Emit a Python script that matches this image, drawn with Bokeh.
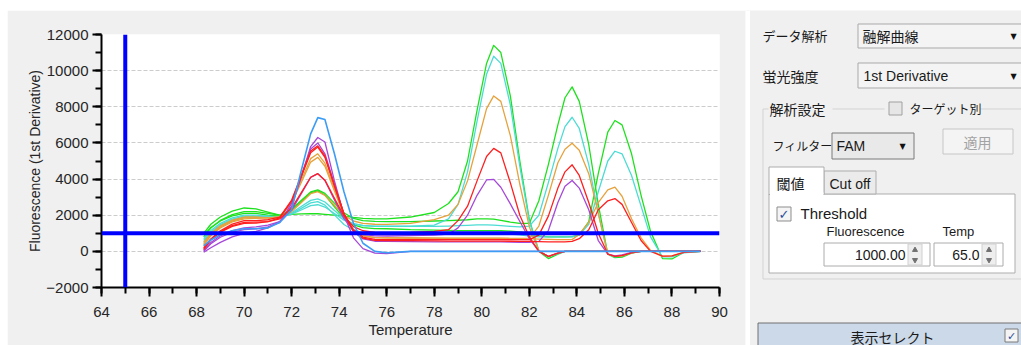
from bokeh.plotting import figure
from bokeh.models import Range1d, Span, SingleIntervalTicker, Spacer
from bokeh.layouts import row, column
from bokeh.core.properties import value
from bokeh.embed import file_html
from bokeh.resources import INLINE

# ---------------- data ----------------
TEMPS = [
    68.3, 68.6, 69.0, 69.5, 70.0, 70.5, 71.0, 71.5, 72.0, 72.4, 72.8, 73.1, 73.4, 73.8, 74.2, 74.6, 75.0, 75.5,
    76.0, 77.0, 78.0, 78.6, 79.0, 79.4, 79.8, 80.2, 80.5, 80.8, 81.2, 81.6, 82.0, 82.4, 82.8, 83.2, 83.5, 83.8,
    84.1, 84.5, 84.9, 85.3, 85.6, 85.9, 86.3, 86.7, 87.1, 87.6, 88.0, 88.5, 89.2]

X_RANGE = (64, 90)
Y_RANGE = (-2000, 12000)
THRESHOLD_FLUOR = 1000.0
THRESHOLD_TEMP = 65.0

Z13 = [0] * 13

A1_GREEN = [1000, 1500, 1900, 2230, 2400, 2350, 2170, 2000, 2050, 2070, 2080, 2080, 2050, 2000, 1950, 1880, 1830, 1800,
            1800, 1900, 2150, 2650, 3300, 5000, 7800, 10400, 11400, 11000, 8600, 5000, 1750, 0, -400, -150, 0, 0] + Z13
A2_CYAN = [700, 1150, 1550, 1850, 2000, 2000, 1950, 1900, 2060, 2290, 2530, 2580, 2450, 2090, 1730, 1520, 1430, 1400,
           1390, 1400, 1450, 1800, 2600, 4400, 7200, 9800, 10800, 10400, 8100, 4700, 1650, 50, -300, -120, 0, 0] + Z13
A3_ORANGE = [500, 990, 1410, 1730, 1900, 1900, 1850, 1850, 2200, 2690, 3190, 3300, 3100, 2550, 2000, 1680, 1550, 1500,
             1490, 1550, 1760, 2000, 2600, 3900, 5900, 7900, 8600, 8300, 6400, 3700, 1350, 50, -300, -100, 0, 0] + Z13
A4_RED = [200, 690, 1110, 1430, 1600, 1620, 1650, 1800, 2400, 3240, 4100, 4300, 3940, 2940, 1960, 1370, 1140, 1050,
          1030, 1050, 1100, 1200, 1700, 2500, 3900, 5250, 5700, 5450, 3800, 2000, 800, 0, -280, -100, 0, 0] + Z13
A5_PURPLE = [50, 490, 860, 1150, 1300, 1350, 1450, 1650, 2280, 3180, 4090, 4300, 3920, 2850, 1810, 1190, 940, 860,
             850, 870, 900, 950, 1300, 2000, 3100, 3950, 3980, 3550, 2630, 1650, 700, 0, -280, -100, 0, 0] + Z13

B1_GREEN = [800, 1290, 1710, 2030, 2200, 2200, 2100, 2000, 2330, 2810, 3290, 3400, 3210, 2670, 2140, 1820, 1700, 1660,
            1650, 1650, 1680, 1700, 1720, 1750, 1800, 1800, 1780, 1720, 1620, 1550, 1550, 2800, 4800, 7000, 8500, 9100,
            8300, 5900, 2600, -150, -350, -320, -100, 0, 0, 0, 0, 0, 0]
B2_CYAN = [600, 1070, 1480, 1790, 1950, 1950, 1900, 1900, 2140, 2480, 2820, 2900, 2730, 2260, 1800, 1530, 1420, 1385,
           1385, 1380, 1380, 1400, 1420, 1440, 1460, 1460, 1450, 1420, 1380, 1350, 1400, 2000, 3800, 5700, 6900, 7420,
           6800, 4800, 2100, -150, -300, -250, -80, 0, 0, 0, 0, 0, 0]
B3_ORANGE = [400, 910, 1340, 1680, 1850, 1850, 1850, 1900, 2730, 3920, 5130, 5400, 4880, 3450, 2050, 1210, 870, 760,
             750, 740, 730, 730, 730, 730, 730, 730, 730, 730, 720, 720, 720, 1400, 3100, 4900, 5650, 5980,
             5600, 4300, 2100, -150, -280, -250, -80, 0, 0, 0, 0, 0, 0]
B4_RED = [100, 660, 1140, 1510, 1700, 1700, 1750, 1900, 2840, 4190, 5550, 5840, 5280, 3680, 2100, 1170, 790, 660,
          650, 650, 650, 650, 650, 650, 650, 650, 650, 650, 650, 650, 650, 900, 1950, 3500, 4400, 4790,
          4200, 2700, 1000, -150, -280, -230, -80, 0, 0, 0, 0, 0, 0]
B5_PURPLE = [0, 420, 780, 1060, 1200, 1250, 1350, 1600, 2650, 4140, 5660, 6000, 5400, 3720, 2070, 1090, 690, 560,
             550, 540, 530, 520, 520, 520, 520, 520, 520, 520, 510, 500, 500, 550, 1150, 2700, 3600, 3920,
             3500, 2300, 600, -150, -250, -200, -60, 0, 0, 0, 0, 0, 0]

C1_GREEN = [900, 1320, 1680, 1960, 2100, 2100, 2000, 1950, 2280, 2760, 3240, 3350, 3120, 2470, 1840, 1460, 1310, 1255,
            1250, 1200, 1180, 1160, 1150, 1150, 1150, 1150, 1150, 1150, 1120, 1080, 1000, 850, 800, 800, 800, 820,
            900, 1650, 4300, 6600, 7240, 7000, 5400, 3100, 1100, -400, -420, -50, 0]
C2_CYAN = [500, 990, 1410, 1730, 1900, 1900, 1880, 1880, 2090, 2380, 2680, 2750, 2560, 2020, 1490, 1170, 1050, 1000,
           1000, 990, 980, 970, 970, 970, 970, 970, 970, 960, 950, 920, 850, 800, 800, 800, 800, 800,
           900, 1500, 3300, 5000, 5540, 5400, 4200, 2500, 800, -300, -300, -80, 0]
C3_ORANGE = [350, 860, 1290, 1630, 1800, 1820, 1850, 1900, 2690, 3800, 4940, 5200, 4710, 3340, 1990, 1190, 870, 755,
             750, 740, 730, 720, 720, 720, 720, 720, 720, 720, 710, 700, 700, 680, 660, 650, 650, 650,
             950, 1600, 2700, 3400, 3550, 3050, 1800, 750, 50, -280, -250, -50, 0]
C4_RED = [150, 640, 1060, 1380, 1550, 1560, 1650, 1850, 2780, 4110, 5460, 5770, 5200, 3600, 2040, 1110, 730, 610,
          600, 590, 580, 570, 570, 570, 570, 570, 570, 570, 560, 550, 550, 540, 530, 530, 530, 550,
          700, 1200, 2300, 2800, 2920, 2600, 1600, 600, 0, -260, -250, -50, 0]

N1_BLUE = [300, 630, 920, 1140, 1250, 1250, 1300, 1600, 2300, 4450, 6500, 7400, 7300, 5400, 3300, 1550, 450, 0,
           -80] + [0] * 17 + Z13
N2_PURPLE = [-50, 200, 500, 800, 1000, 1100, 1300, 1650, 2500, 4100, 5800, 6300, 6050, 3900, 2000, 750, 150, -100,
             -120] + [0] * 17 + Z13

GREEN, CYAN, ORANGE, RED, PURPLE, BLUE = "#1ee11e", "#4cdcd4", "#e6a23c", "#ff1f1f", "#a648d8", "#3d9df5"

SERIES = [
    (C1_GREEN, GREEN), (B1_GREEN, GREEN), (A1_GREEN, GREEN),
    (C2_CYAN, CYAN), (B2_CYAN, CYAN), (A2_CYAN, CYAN),
    (C3_ORANGE, ORANGE), (B3_ORANGE, ORANGE), (A3_ORANGE, ORANGE),
    (A5_PURPLE, PURPLE), (B5_PURPLE, PURPLE), (N2_PURPLE, PURPLE),
    (C4_RED, RED), (B4_RED, RED), (A4_RED, RED),
    (N1_BLUE, BLUE),
]
for s, _ in SERIES:
    assert len(s) == len(TEMPS), len(s)

# ---------------- chart ----------------
LATIN = "Liberation Sans"
CJK = "Noto Sans CJK JP"

p = figure(width=738, height=335, x_range=Range1d(*X_RANGE), y_range=Range1d(*Y_RANGE),
           output_backend="svg", toolbar_location=None, frame_align=False,
           min_border_left=94, min_border_right=26, min_border_top=24, min_border_bottom=58)
p.background_fill_color = "white"
p.border_fill_color = "#f0f0f0"
p.outline_line_color = None

xt = SingleIntervalTicker(interval=2, num_minor_ticks=2)
yt = SingleIntervalTicker(interval=2000, num_minor_ticks=2)
p.xaxis.ticker = xt
p.yaxis.ticker = yt
p.xgrid.visible = False
p.ygrid.ticker = yt
p.ygrid.grid_line_color = "#cccccc"
p.ygrid.grid_line_dash = "4 2"
p.ygrid.grid_line_width = 1

for ax in (p.xaxis[0], p.yaxis[0]):
    ax.axis_line_color = "black"
    ax.axis_line_width = 2
    ax.major_tick_line_color = "black"
    ax.major_tick_line_width = 2
    ax.minor_tick_line_color = "black"
    ax.minor_tick_line_width = 2
    ax.major_tick_in = 0
    ax.major_tick_out = 9
    ax.minor_tick_in = 0
    ax.minor_tick_out = 6
    ax.major_label_text_font = LATIN
    ax.major_label_text_font_size = "15px"
    ax.major_label_text_color = "#262626"
    ax.axis_label_text_font = LATIN
    ax.axis_label_text_font_style = "normal"
    ax.axis_label_text_color = "#262626"

p.xaxis.axis_label = "Temperature"
p.xaxis.axis_label_text_font_size = "15px"
p.xaxis.major_label_standoff = 10
p.xaxis.axis_label_standoff = 1
p.yaxis.axis_label = "Fluorescence (1st Derivative)"
p.yaxis.axis_label_text_font_size = "14px"
p.yaxis.major_label_standoff = 4
p.yaxis.axis_label_standoff = 0

for vals, col in SERIES:
    width = 1.6 if col == BLUE else 1.3
    p.line(TEMPS, vals, line_color=col, line_width=width, line_join="round")

p.add_layout(Span(location=THRESHOLD_FLUOR, dimension="width", line_color="#0000ff", line_width=4))
p.add_layout(Span(location=THRESHOLD_TEMP, dimension="height", line_color="#0000ff", line_width=4))

# ---------------- side panel (pixel coordinates of the page) ----------------
q = figure(width=276, height=335, x_range=Range1d(745, 1021), y_range=Range1d(345, 10),
           output_backend="svg", toolbar_location=None, frame_align=False,
           x_axis_location=None, y_axis_location=None, min_border=0)
q.grid.visible = False
q.outline_line_color = None
q.background_fill_color = "#f0f0f0"
q.border_fill_color = "#f0f0f0"


def box(l, t, r, b, fill, line):
    q.quad(left=[l], right=[r], top=[t], bottom=[b], fill_color=fill,
           line_color=line, line_width=1)


def label(x, y, s, size, font=CJK, color="#1a1a1a", align="left"):
    q.text(x=[x], y=[y], text=[s], text_font=value(font), text_font_size=size,
           text_color=color, text_align=align, text_baseline="middle")


box(745, 10, 749.5, 345, "white", None)

label(762, 35, "データ解析", "13px")
box(857.5, 23.5, 1025, 47.5, "#f4f4f4", "#a9a9a9")
label(862, 35, "融解曲線", "14px")
label(1013, 36, "▼", "8px", font="DejaVu Sans", color="#111111", align="center")

label(762, 75, "蛍光強度", "14px")
box(857.5, 62.5, 1025, 87.5, "#f4f4f4", "#a9a9a9")
label(863, 75, "1st Derivative", "14px", font=LATIN)
label(1013, 76, "▼", "8px", font="DejaVu Sans", color="#111111", align="center")

q.multi_line(xs=[[768, 762.5, 762.5, 1025], [832, 884], [980, 1025]],
             ys=[[108.5, 108.5, 278.5, 278.5], [108.5, 108.5], [108.5, 108.5]],
             line_color="#d3d3d3", line_width=1)
label(769, 108, "解析設定", "14px")
box(888.5, 101.5, 901.5, 114.5, "#e6e6e6", "#a0a0a0")
label(909, 108, "ターゲット別", "12px")

label(772, 145, "フィルター", "12px")
box(831.5, 132.5, 913.5, 158.5, "#e9e9e9", "#7a7a7a")
label(836, 145, "FAM", "14px", font=LATIN)
label(902, 146, "▼", "8px", font="DejaVu Sans", color="#111111", align="center")
box(942.5, 128.5, 1012.5, 153.5, "#f4f4f4", "#c6c6c6")
label(977, 141, "適用", "14px", color="#a3a3a3", align="center")

box(768.5, 193.5, 1014.5, 272.5, "white", "#adadad")
box(823.5, 170.5, 875.5, 193.5, "#ebebeb", "#adadad")
box(768.5, 166.5, 823.5, 194, "white", "#adadad")
box(769.5, 192, 823, 195, "white", None)
label(776, 182, "閾値", "14px")
label(829, 183, "Cut off", "14px", font=LATIN)

box(776.5, 206.5, 790.5, 220.5, "#f4f4f4", "#8d8d8d")
label(783.5, 213.5, "✓", "13px", font="DejaVu Sans", color="#2d4f9e", align="center")
label(800, 213, "Threshold", "15px", font=LATIN)
label(826, 231, "Fluorescence", "13px", font=LATIN)
label(942, 231, "Temp", "13px", font=LATIN)

box(823.5, 242.5, 929.5, 265.5, "white", "#acacac")
box(907.5, 243.5, 921.5, 264.5, "#eeeeee", "#d0d0d0")
label(905, 254.5, "1000.00", "14px", font=LATIN, align="right")
box(933.5, 242.5, 1002.5, 265.5, "white", "#acacac")
box(981.5, 243.5, 995.5, 264.5, "#eeeeee", "#d0d0d0")
label(979, 254.5, "65.0", "14px", font=LATIN, align="right")
q.scatter(x=[914.5, 988.5], y=[249.5, 249.5], marker="triangle", size=5, color="#707070")
q.scatter(x=[914.5, 988.5], y=[259.5, 259.5], marker="inverted_triangle", size=5, color="#707070")

box(757.5, 322.5, 1025, 350, "#cbd9e9", "#707070")
label(892, 336, "表示セレクト", "14px", align="center")
box(1004.5, 328.5, 1017.5, 341.5, "#f4f4f4", "#7a7a7a")
label(1011, 335.5, "✓", "11px", font="DejaVu Sans", color="#2d4f9e", align="center")

layout = column(Spacer(height=10, width=1021), row(Spacer(width=7, height=335), p, q))
open("out.html", "w").write(file_html(layout, INLINE))
